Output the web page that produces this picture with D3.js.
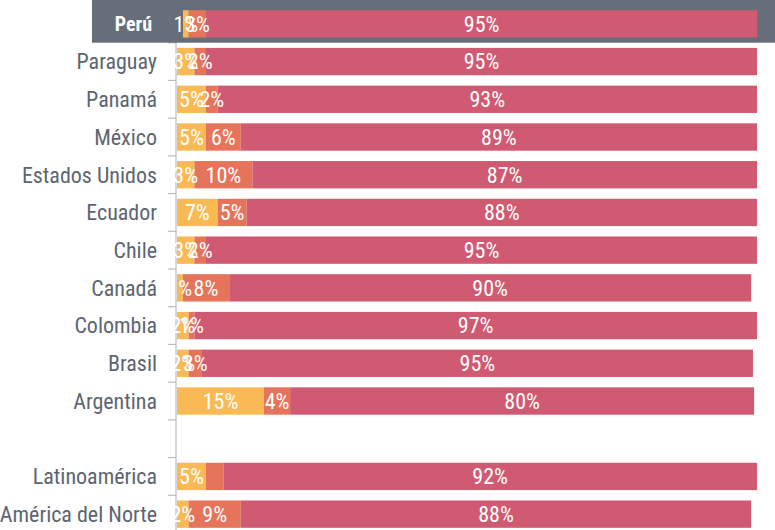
<!DOCTYPE html>
<html><head><meta charset="utf-8">
<script src="https://cdn.jsdelivr.net/npm/d3@7"></script>
<style>
html,body{margin:0;padding:0;background:#fff;}
svg{display:block;}
text{font-family:"Liberation Sans Narrow","Arial Narrow","Roboto Condensed","DejaVu Sans Condensed",sans-serif;}
</style></head>
<body>
<svg id="chart" width="775" height="530"></svg>
<script>
// Categories (top to bottom); "" is an empty spacer row
const categories = ["Perú","Paraguay","Panamá","México","Estados Unidos","Ecuador","Chile","Canadá","Colombia","Brasil","Argentina","","Latinoamérica","América del Norte"];
// Series values (%), same order as categories
const seriesNames = ["amarillo","naranja","rojo"];
const yellowValues = [1, 3, 5, 5, 3, 7, 3, 1, 2, 2, 15, null, 5, 2];
const orangeValues = [3, 2, 2, 6, 10, 5, 2, 8, 1, 2.3, 4.5, null, 3, 9];
const redValues    = [95, 95, 93, 89, 87, 88, 95, 90, 97, 95, 80, null, 92, 88];
const shownLabels  = [
  [1,3,95],[3,2,95],[5,2,93],[5,6,89],[3,10,87],[7,5,88],[3,2,95],[1,8,90],[2,1,97],[2,3,95],[15,4,80],null,[5,null,92],[2,9,88]
];
const highlighted = "Perú";
const colors = ["#f9b955","#e5745a","#cf5a71"];

const svg = d3.select("#chart");
const W = 775, H = 530;
const x = d3.scaleLinear().domain([0,100]).range([177, 757]);
const y = d3.scaleBand().domain(categories).range([5, 533]).paddingInner(0.275).paddingOuter(0.1375);

// axis line + ticks between bands
const axisX = 176;
svg.append("line").attr("x1",axisX).attr("x2",axisX).attr("y1",y(categories[1]) - y.step()*0.1375*2).attr("y2",H)
  .attr("stroke","#b9bcc2").attr("stroke-width",1.2);
const boundaries = categories.slice(1).map(c => y(c) - (y.step()-y.bandwidth())/2);
svg.selectAll("line.tick").data(boundaries).join("line").attr("class","tick")
  .attr("x1",axisX-8).attr("x2",axisX).attr("y1",d=>d).attr("y2",d=>d)
  .attr("stroke","#b9bcc2").attr("stroke-width",1.2);

// highlight band
svg.append("rect").attr("x",92).attr("y",0).attr("width",W-92)
  .attr("height", y(highlighted) + y.bandwidth() + (y.step()-y.bandwidth())/2)
  .attr("fill","#666e7a");

const rows = categories.map((c,i)=>({cat:c, vals:[yellowValues[i],orangeValues[i],redValues[i]], labels:shownLabels[i]}))
  .filter(r=>r.cat!=="");

const g = svg.selectAll("g.row").data(rows).join("g").attr("class","row")
  .attr("transform", d => d.cat===highlighted ? "translate(6,0)" : null);

g.each(function(r){
  const gg = d3.select(this);
  let acc = 0;
  const segs = r.vals.map((v,k)=>{ const s={x0:acc,x1:acc+v,k,label:r.labels[k]}; acc+=v; return s; });
  gg.selectAll("rect").data(segs).join("rect")
    .attr("x",s=>x(s.x0)).attr("width",s=>x(s.x1)-x(s.x0))
    .attr("y",y(r.cat)).attr("height",y.bandwidth())
    .attr("fill",s=>colors[s.k]);
  gg.selectAll("text").data(segs.filter(s=>s.label!=null)).join("text")
    .attr("x",s=>(x(s.x0)+x(s.x1))/2).attr("y",y(r.cat)+y.bandwidth()/2)
    .attr("dy","0.36em").attr("text-anchor","middle")
    .attr("fill","#fff").attr("font-size",22)
    .text(s=>s.label+"%");
});

// category labels
svg.selectAll("text.cat").data(rows).join("text").attr("class","cat")
  .attr("x", d => d.cat===highlighted ? 152 : 157)
  .attr("y", d => y(d.cat)+y.bandwidth()/2).attr("dy","0.36em")
  .attr("text-anchor","end")
  .attr("font-size", d => d.cat===highlighted ? 20 : 22)
  .attr("font-weight", d => d.cat===highlighted ? "bold" : "normal")
  .attr("fill", d => d.cat===highlighted ? "#fff" : "#5d6571")
  .text(d=>d.cat);
</script>
</body></html>
